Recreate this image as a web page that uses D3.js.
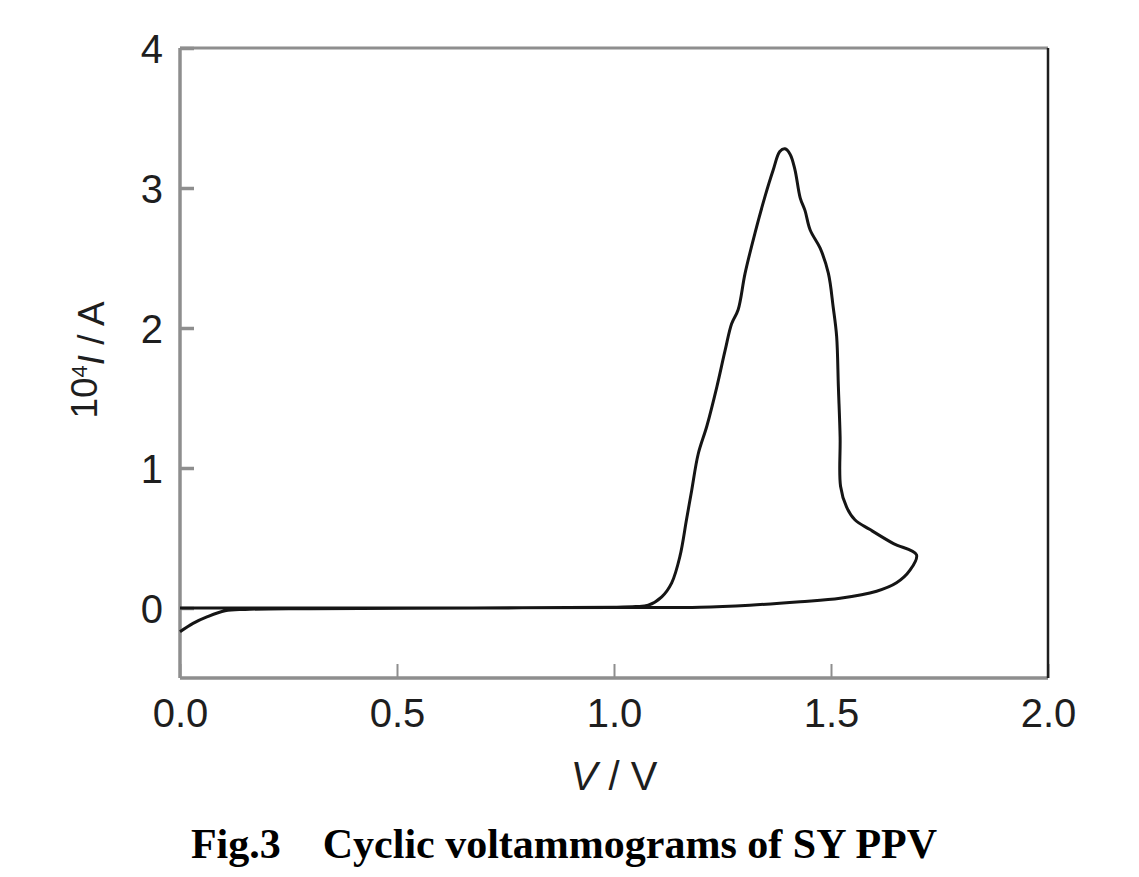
<!DOCTYPE html>
<html>
<head>
<meta charset="utf-8">
<script src="https://cdn.jsdelivr.net/npm/d3@7"></script>
<style>
  body { margin: 0; background: #fff; }
  svg { display: block; }
  .tick text { font-family: "Liberation Sans", Arial, sans-serif; font-size: 40px; fill: #1e1e1e; }
</style>
</head>
<body>
<svg id="container"></svg>
<script>
// potential (V) and current (10^4 I / A), in scan order
var potential = [0.000, 0.030, 0.062, 0.104, 0.150, 0.300, 0.700, 1.000, 1.050, 1.079,
  1.110, 1.133, 1.152, 1.167, 1.179, 1.194, 1.214, 1.237, 1.256, 1.271,
  1.286, 1.302, 1.325, 1.348, 1.367, 1.382, 1.394, 1.406, 1.417, 1.429,
  1.440, 1.452, 1.475, 1.494, 1.505, 1.513, 1.517, 1.521, 1.522, 1.536,
  1.555, 1.590, 1.644, 1.697, 1.682, 1.651, 1.605, 1.521, 1.429, 1.313,
  1.198, 1.000, 0.500, 0.000];
var current = [-0.17, -0.11, -0.064, -0.02, -0.01, -0.005, 0.000, 0.005, 0.010, 0.020,
  0.08, 0.18, 0.37, 0.63, 0.84, 1.10, 1.30, 1.58, 1.84, 2.03,
  2.13, 2.39, 2.68, 2.94, 3.13, 3.26, 3.28, 3.24, 3.13, 2.93,
  2.84, 2.70, 2.57, 2.39, 2.15, 1.94, 1.58, 1.22, 0.87, 0.72,
  0.63, 0.56, 0.46, 0.38, 0.27, 0.18, 0.12, 0.07, 0.045, 0.02,
  0.005, 0.003, 0.000, 0.000];
var xTicks = [0.0, 0.5, 1.0, 1.5, 2.0];
var yTicks = [0, 1, 2, 3, 4];

var W = 1139, H = 877;
var margin = {top: 48, right: 91, bottom: 199, left: 180},
    w = W - margin.left - margin.right,
    h = H - margin.top - margin.bottom;

var svg = d3.select("#container").attr("width", W).attr("height", H);
var g = svg.append("g").attr("transform", "translate(" + margin.left + "," + margin.top + ")");

var x = d3.scaleLinear().domain([0, 2]).range([0, w]);
var y = d3.scaleLinear().domain([-0.5, 4]).range([h, 0]);

var axisGray = "#8e8e8e";

var gX = g.append("g")
  .attr("transform", "translate(0," + h + ")")
  .call(d3.axisBottom(x).tickValues(xTicks).tickFormat(d3.format(".1f")).tickSize(-14).tickPadding(21));
gX.select(".domain").remove();
gX.selectAll(".tick line").attr("stroke", axisGray).attr("stroke-width", 2);

var gY = g.append("g")
  .call(d3.axisLeft(y).tickValues(yTicks).tickFormat(d3.format("d")).tickSize(-14).tickPadding(17));
gY.select(".domain").remove();
gY.selectAll(".tick line").attr("stroke", axisGray).attr("stroke-width", 3.5);
gY.selectAll(".tick text").attr("dy", "0.36em");

// frame: grey left/top/bottom, dark right edge
g.append("line").attr("x1", 0).attr("x2", 0).attr("y1", 0).attr("y2", h)
  .attr("stroke", axisGray).attr("stroke-width", 3.5);
g.append("line").attr("x1", 0).attr("x2", w).attr("y1", 0).attr("y2", 0)
  .attr("stroke", axisGray).attr("stroke-width", 3);
g.append("line").attr("x1", 0).attr("x2", w).attr("y1", h).attr("y2", h)
  .attr("stroke", axisGray).attr("stroke-width", 3.5);
g.append("line").attr("x1", w).attr("x2", w).attr("y1", 0).attr("y2", h)
  .attr("stroke", "#1e1e1e").attr("stroke-width", 2.5);

var pts = potential.map(function(v, i) { return [v, current[i]]; });
var line = d3.line()
  .x(function(d) { return x(d[0]); })
  .y(function(d) { return y(d[1]); })
  .curve(d3.curveCatmullRom.alpha(0.5));

g.append("path")
  .datum(pts)
  .attr("fill", "none")
  .attr("stroke", "#151515")
  .attr("stroke-width", 3)
  .attr("stroke-linejoin", "round")
  .attr("d", line);

// axis titles
var xl = svg.append("text")
  .attr("x", margin.left + x(1.0))
  .attr("y", 790)
  .attr("text-anchor", "middle")
  .style("font-family", "Liberation Sans, Arial, sans-serif")
  .style("font-size", "40px")
  .style("fill", "#1e1e1e");
xl.append("tspan").style("font-style", "italic").text("V");
xl.append("tspan").text(" / V");

var yl = svg.append("text")
  .attr("transform", "translate(97,360) rotate(-90)")
  .attr("text-anchor", "middle")
  .style("font-family", "Liberation Sans, Arial, sans-serif")
  .style("font-size", "37px")
  .style("fill", "#1e1e1e");
yl.append("tspan").text("10");
yl.append("tspan").attr("dy", "-0.45em").style("font-size", "22px").text("4");
yl.append("tspan").attr("dy", "0.45em").style("font-style", "italic").text("I");
yl.append("tspan").text(" / A");

// figure caption
svg.append("text")
  .attr("x", 564)
  .attr("y", 858)
  .attr("text-anchor", "middle")
  .attr("xml:space", "preserve")
  .style("white-space", "pre")
  .style("font-family", "Liberation Serif, Times New Roman, serif")
  .style("font-weight", "bold")
  .style("font-size", "42px")
  .style("fill", "#000")
  .text("Fig.3    Cyclic voltammograms of SY PPV");
</script>
</body>
</html>
